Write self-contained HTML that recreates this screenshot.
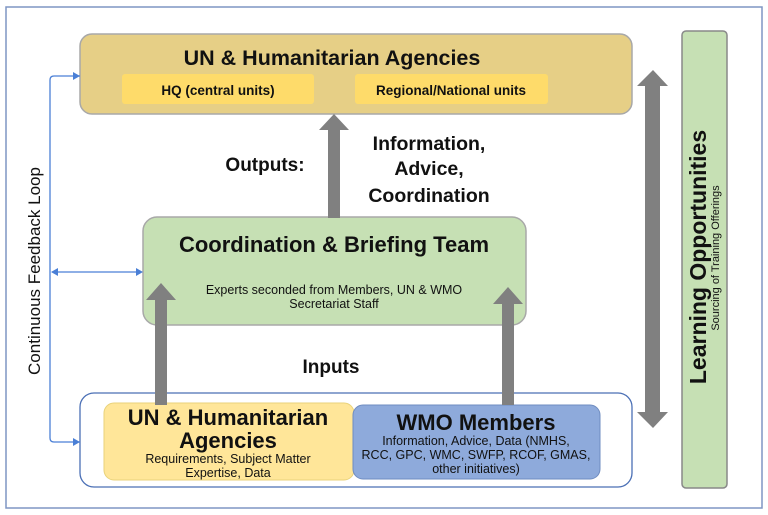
<!DOCTYPE html>
<html><head><meta charset="utf-8"><style>
body{margin:0;background:#fff}
svg{display:block}
text{font-family:"Liberation Sans",sans-serif;fill:#111}
</style></head><body>
<svg width="768" height="515" viewBox="0 0 768 515" xmlns="http://www.w3.org/2000/svg">
<rect x="6" y="7" width="756" height="501" fill="#fff" stroke="#7f95c4" stroke-width="1.5"/>
<!-- top box -->
<rect x="80" y="34" width="552" height="80" rx="12" fill="#e6cf86" stroke="#a8a8a8" stroke-width="1.5"/>
<text x="332" y="65" font-size="21.5" font-weight="bold" text-anchor="middle">UN &amp; Humanitarian Agencies</text>
<rect x="122" y="74" width="192" height="30" rx="3" fill="#fedb6a"/>
<text x="218" y="95" font-size="13.5" font-weight="bold" text-anchor="middle">HQ (central units)</text>
<rect x="355" y="74" width="193" height="30" rx="3" fill="#fedb6a"/>
<text x="451" y="95" font-size="13.5" font-weight="bold" text-anchor="middle">Regional/National units</text>
<!-- right learning -->
<rect x="682" y="31" width="45" height="457" rx="4" fill="#c6e0b4" stroke="#888" stroke-width="1.5"/>
<text transform="translate(706,257) rotate(-90)" font-size="23" font-weight="bold" text-anchor="middle">Learning Opportunities</text>
<text transform="translate(719,258) rotate(-90)" font-size="11" text-anchor="middle" fill="#333">Sourcing of Training Offerings</text>
<!-- double arrow -->
<polygon points="653,70 668,86 660,86 660,412 668,412 653,428 637,412 645,412 645,86 637,86" fill="#808080"/>
<!-- coordination box -->
<rect x="143" y="217" width="383" height="108" rx="14" fill="#c6e0b4" stroke="#a8a8a8" stroke-width="1.5"/>
<text x="334" y="252" font-size="22" font-weight="bold" text-anchor="middle">Coordination &amp; Briefing Team</text>
<text x="334" y="294" font-size="12.5" text-anchor="middle" fill="#333">Experts seconded from Members, UN &amp; WMO</text>
<text x="334" y="308" font-size="12.5" text-anchor="middle" fill="#333">Secretariat Staff</text>
<!-- output arrow -->
<polygon points="334,114 349,130 340,130 340,218 328,218 328,130 319,130" fill="#808080"/>
<text x="265" y="171" font-size="19" font-weight="bold" text-anchor="middle">Outputs:</text>
<text x="429" y="150" font-size="19.5" font-weight="bold" text-anchor="middle">Information,</text>
<text x="429" y="175" font-size="19.5" font-weight="bold" text-anchor="middle">Advice,</text>
<text x="429" y="202" font-size="19.5" font-weight="bold" text-anchor="middle">Coordination</text>
<text x="331" y="373" font-size="19" font-weight="bold" text-anchor="middle">Inputs</text>
<!-- bottom container -->
<rect x="80" y="393" width="552" height="94" rx="14" fill="#fff" stroke="#4a6fb5" stroke-width="1.3"/>
<rect x="104" y="403" width="250" height="77" rx="10" fill="#ffe699" stroke="#e8d27a"/>
<text x="228" y="425" font-size="22" font-weight="bold" text-anchor="middle">UN &amp; Humanitarian</text>
<text x="228" y="448" font-size="22" font-weight="bold" text-anchor="middle">Agencies</text>
<text x="228" y="463" font-size="12.5" text-anchor="middle">Requirements, Subject Matter</text>
<text x="228" y="477" font-size="12.5" text-anchor="middle">Expertise, Data</text>
<rect x="353" y="405" width="247" height="74" rx="10" fill="#8eaadb" stroke="#6f8cc0"/>
<text x="476" y="430" font-size="22" font-weight="bold" text-anchor="middle">WMO Members</text>
<text x="476" y="445" font-size="12.5" text-anchor="middle">Information, Advice, Data (NMHS,</text>
<text x="476" y="459" font-size="12.5" text-anchor="middle">RCC, GPC, WMC, SWFP, RCOF, GMAS,</text>
<text x="476" y="473" font-size="12.5" text-anchor="middle">other initiatives)</text>
<!-- input arrows -->
<polygon points="161,283 176,300 167,300 167,405 155,405 155,300 146,300" fill="#808080"/>
<polygon points="508,287 523,304 514,304 514,405 502,405 502,304 493,304" fill="#808080"/>
<!-- feedback loop -->
<path d="M80,76 H54 Q50,76 50,80 V438 Q50,442 54,442 H80" fill="none" stroke="#4a7fd6" stroke-width="1.3"/>
<polygon points="80,76 73,72 73,80" fill="#4a7fd6"/>
<polygon points="80,442 73,438 73,446" fill="#4a7fd6"/>
<line x1="52" y1="272" x2="141" y2="272" stroke="#4a7fd6" stroke-width="1.3"/>
<polygon points="51,272 58,268 58,276" fill="#4a7fd6"/>
<polygon points="143,272 136,268 136,276" fill="#4a7fd6"/>
<text transform="translate(40,271) rotate(-90)" font-size="17" text-anchor="middle" fill="#222">Continuous Feedback Loop</text>
</svg>
</body></html>
